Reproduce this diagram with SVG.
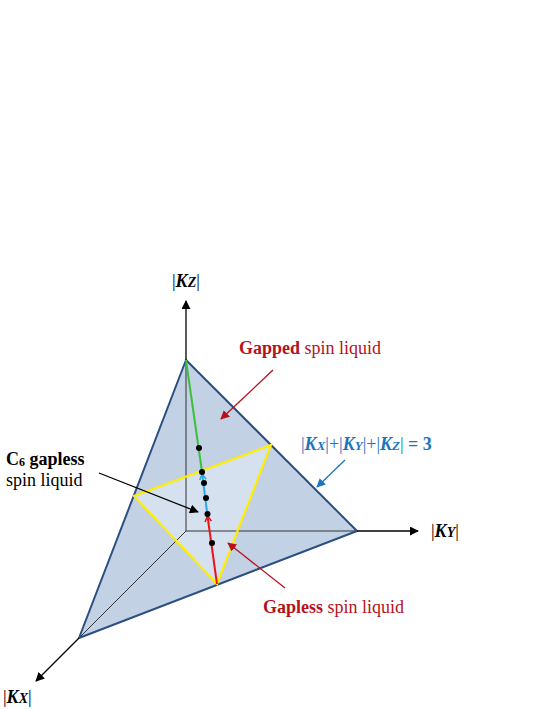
<svg xmlns="http://www.w3.org/2000/svg" width="548" height="709" viewBox="0 0 548 709">
<defs>
<style>
text{font-family:"Liberation Serif","Times New Roman",serif;font-size:18px}
.b{font-weight:bold}
.k{font-weight:bold;font-style:italic}
.red{fill:#b5121b}
.blu{fill:#1b75bc}
.ax{stroke:#000;stroke-width:1.3;fill:none}
.hid{stroke:#333;stroke-width:1;fill:none}
</style>
<marker id="ah" viewBox="0 0 10 10" refX="9" refY="5" markerWidth="9" markerHeight="9" markerUnits="userSpaceOnUse" orient="auto"><path d="M0,0L10,5L0,10z" fill="#000"/></marker>
<marker id="ahr" viewBox="0 0 10 10" refX="9" refY="5" markerWidth="9" markerHeight="9" markerUnits="userSpaceOnUse" orient="auto"><path d="M0,0L10,5L0,10z" fill="#b5121b"/></marker>
<marker id="ahb" viewBox="0 0 10 10" refX="9" refY="5" markerWidth="9" markerHeight="9" markerUnits="userSpaceOnUse" orient="auto"><path d="M0,0L10,5L0,10z" fill="#1b75bc"/></marker>
<marker id="chr" viewBox="0 0 10 10" refX="8" refY="5" markerWidth="8" markerHeight="8" markerUnits="userSpaceOnUse" orient="auto"><path d="M1,1L8,5L1,9" fill="none" stroke="#e8141c" stroke-width="2"/></marker>
<marker id="chb" viewBox="0 0 10 10" refX="8" refY="5" markerWidth="8" markerHeight="8" markerUnits="userSpaceOnUse" orient="auto"><path d="M1,1L8,5L1,9" fill="none" stroke="#29a9e0" stroke-width="2"/></marker>
</defs>

<g id="tetrahedron">
<polygon points="186,360 357,531 79,638" fill="#c3d1e4"/>
<polygon points="271,445 134,496 217,584" fill="#d6e1ef"/>
<line class="hid" x1="186" y1="360" x2="186" y2="531"/>
<line class="hid" x1="186" y1="531" x2="357" y2="531"/>
<line class="hid" x1="186" y1="531" x2="79" y2="638"/>
<polygon points="186,360 357,531 79,638" fill="none" stroke="#2b4f82" stroke-width="2" stroke-linejoin="round"/>
</g>

<g id="axes">
<line class="ax" x1="186" y1="360" x2="186" y2="301" marker-end="url(#ah)"/>
<line class="ax" x1="357" y1="531" x2="418" y2="531" marker-end="url(#ah)"/>
<line class="ax" x1="79" y1="638" x2="36" y2="681" marker-end="url(#ah)"/>
<text id="kz" x="172" y="287" font-size="20">|<tspan class="k">K</tspan><tspan class="k" font-size="14">Z</tspan>|</text>
<text id="ky" x="431" y="537" font-size="20">|<tspan class="k">K</tspan><tspan class="k" font-size="14">Y</tspan>|</text>
<text id="kx" x="3" y="703" font-size="20">|<tspan class="k">K</tspan><tspan class="k" font-size="14">X</tspan>|</text>
</g>

<g id="yellow-triangle">
<polygon points="271,445 134,496 217,584" fill="none" stroke="#ffee00" stroke-width="2.2" stroke-linejoin="miter"/>
</g>

<g id="path-line">
<line x1="186" y1="360" x2="202" y2="472" stroke="#3cc03c" stroke-width="2"/>
<line x1="207.3" y1="514" x2="202.2" y2="474" stroke="#29a9e0" stroke-width="2" marker-end="url(#chb)"/>
<line x1="217" y1="584" x2="207.5" y2="516" stroke="#e8141c" stroke-width="2" marker-end="url(#chr)"/>
<g fill="#000">
<circle cx="199" cy="448" r="3"/>
<circle cx="202" cy="472" r="3"/>
<circle cx="204" cy="483" r="3"/>
<circle cx="206" cy="498" r="3"/>
<circle cx="207.5" cy="514" r="3"/>
<circle cx="212" cy="543" r="3"/>
</g>
</g>

<g id="connectors">
<line x1="273" y1="370" x2="221" y2="419" stroke="#b5121b" stroke-width="1.3" marker-end="url(#ahr)"/>
<line x1="345" y1="460" x2="317" y2="487" stroke="#1b75bc" stroke-width="1.3" marker-end="url(#ahb)"/>
<line x1="99" y1="473" x2="198" y2="512" stroke="#000" stroke-width="1.3" marker-end="url(#ah)"/>
<line x1="285" y1="588" x2="228" y2="543" stroke="#b5121b" stroke-width="1.3" marker-end="url(#ahr)"/>
</g>

<g id="label-gapped">
<text x="239" y="354" class="red"><tspan class="b">Gapped</tspan> spin liquid</text>
</g>
<g id="label-equation">
<text x="301" y="450" class="blu">|<tspan class="k">K</tspan><tspan class="k" font-size="13">X</tspan>|+|<tspan class="k">K</tspan><tspan class="k" font-size="13">Y</tspan>|+|<tspan class="k">K</tspan><tspan class="k" font-size="13">Z</tspan>| <tspan class="b">= 3</tspan></text>
</g>
<g id="label-c6">
<text x="6" y="465"><tspan class="b">C</tspan><tspan class="b" font-size="12" dy="1">6</tspan><tspan class="b" dy="-1"> gapless</tspan></text>
<text x="6" y="486">spin liquid</text>
</g>
<g id="label-gapless">
<text x="263" y="613" class="red"><tspan class="b">Gapless</tspan> spin liquid</text>
</g>
</svg>
